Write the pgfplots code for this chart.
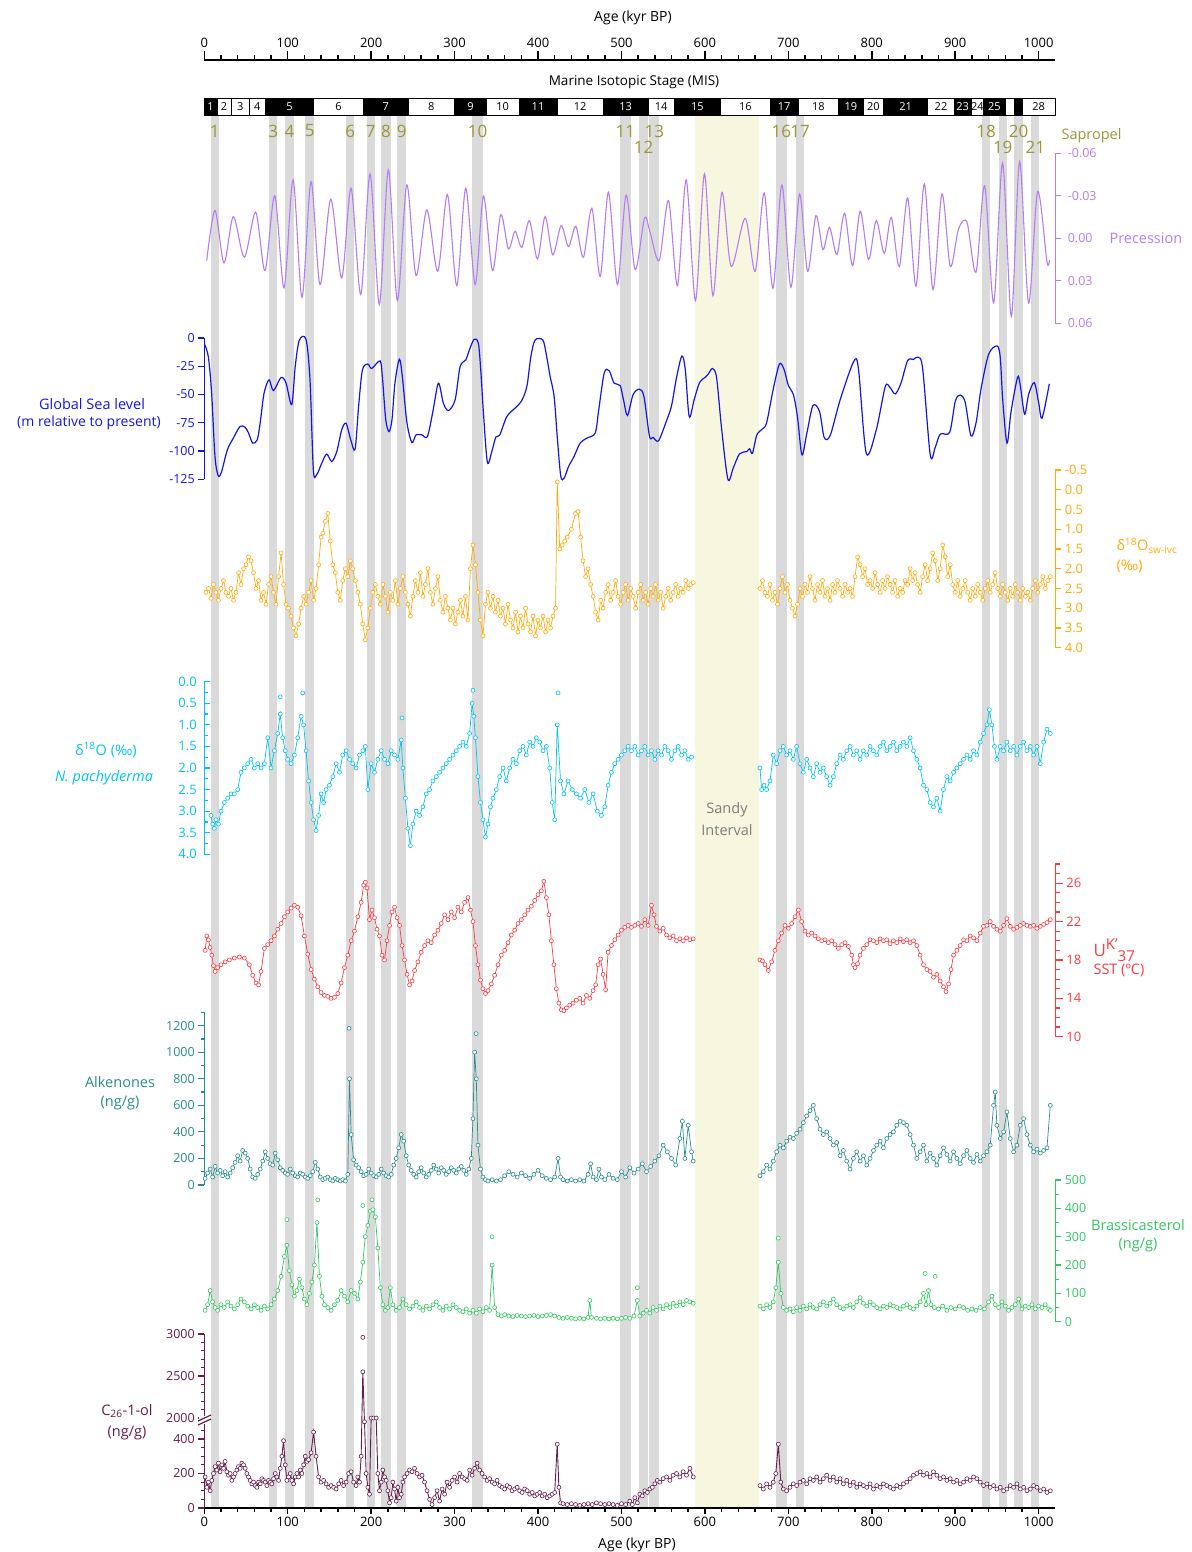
\documentclass[border=0pt]{standalone}
\usepackage{fontspec}
\setmainfont{Open Sans}
\usepackage{pgfplots}
\pgfplotsset{compat=1.18}
\newcommand\fs[1]{\fontsize{#1pt}{#1pt}\selectfont}
\definecolor{prec}{RGB}{180,125,245}
\definecolor{sea}{RGB}{20,20,230}
\definecolor{osw}{RGB}{255,170,10}
\definecolor{pachy}{RGB}{0,195,240}
\definecolor{sst}{RGB}{250,60,65}
\definecolor{alk}{RGB}{40,140,140}
\definecolor{bras}{RGB}{50,200,95}
\definecolor{cter}{RGB}{100,30,75}
\definecolor{sap}{RGB}{218,218,218}
\definecolor{sandy}{RGB}{247,247,224}
\definecolor{olive}{RGB}{155,150,55}
\definecolor{sandtxt}{RGB}{125,125,125}
\pgfkeys{/pgf/number format/.cd,1000 sep={},assume math mode=true}
\pgfplotsset{
 panelbase/.style={scale only axis, width=851pt, xmin=0, xmax=1020, clip=false,
   anchor=south west, tick align=outside, major tick length=6pt, minor tick length=3.5pt,
   scaled y ticks=false, scaled x ticks=false,
   axis line style={-}, every outer y axis line/.append style={-}, every outer x axis line/.append style={-},
   every inner y axis line/.append style={-}, tick style={line width=1.2pt},
   yticklabel style={font=\fs{12.5}}},
 panel/.style={panelbase, axis x line=none},
 dots/.style={color=#1, line width=0.7pt, mark=*, mark size=2pt, mark options={fill=white, draw=#1, line width=0.6pt, solid}},
 odots/.style={only marks, mark=*, mark size=2pt, mark options={fill=white, draw=#1, line width=0.6pt}},
}
\begin{document}
\begin{tikzpicture}[x=1pt,y=1pt]
\useasboundingbox (0,0) rectangle (1191,1552);
% ---------- background bands ----------
\begin{axis}[scale only axis, width=851pt, height=1393pt, at={(204.3pt,44pt)}, anchor=south west,
  xmin=0, xmax=1020, ymin=0, ymax=1, hide axis, clip=false]
\addplot[fill=sap, draw=none] coordinates {(7.7,0)(17.3,0)(17.3,1)(7.7,1)};
\addplot[fill=sap, draw=none] coordinates {(78,0)(87.5,0)(87.5,1)(78,1)};
\addplot[fill=sap, draw=none] coordinates {(97,0)(107,0)(107,1)(97,1)};
\addplot[fill=sap, draw=none] coordinates {(121,0)(131.5,0)(131.5,1)(121,1)};
\addplot[fill=sap, draw=none] coordinates {(170,0)(180,0)(180,1)(170,1)};
\addplot[fill=sap, draw=none] coordinates {(195,0)(204,0)(204,1)(195,1)};
\addplot[fill=sap, draw=none] coordinates {(212,0)(223.5,0)(223.5,1)(212,1)};
\addplot[fill=sap, draw=none] coordinates {(231,0)(242,0)(242,1)(231,1)};
\addplot[fill=sap, draw=none] coordinates {(321,0)(334,0)(334,1)(321,1)};
\addplot[fill=sap, draw=none] coordinates {(498.5,0)(511,0)(511,1)(498.5,1)};
\addplot[fill=sap, draw=none] coordinates {(521,0)(532,0)(532,1)(521,1)};
\addplot[fill=sap, draw=none] coordinates {(533.5,0)(545.5,0)(545.5,1)(533.5,1)};
\addplot[fill=sap, draw=none] coordinates {(685.5,0)(698,0)(698,1)(685.5,1)};
\addplot[fill=sap, draw=none] coordinates {(709,0)(719,0)(719,1)(709,1)};
\addplot[fill=sap, draw=none] coordinates {(932,0)(942,0)(942,1)(932,1)};
\addplot[fill=sap, draw=none] coordinates {(952,0)(962,0)(962,1)(952,1)};
\addplot[fill=sap, draw=none] coordinates {(971,0)(981,0)(981,1)(971,1)};
\addplot[fill=sap, draw=none] coordinates {(991,0)(1001,0)(1001,1)(991,1)};
\addplot[fill=sandy, draw=none] coordinates {(588.5,0)(664.3,0)(664.3,1)(588.5,1)};
\end{axis}
% ---------- MIS bar ----------
\foreach \a/\b/\l in {15/32/2,32/54/3,54/73/4,131/191/6,244/300/8,338/377/10,423/478/12,532/563/14,619/678/16,712/760/18,790/814/20,867/899/22,919/934/24,980/1020/28}{
  \draw[line width=0.6pt, fill=white] ({204.3+0.83431*\a},1437) rectangle ({204.3+0.83431*\b},1454);
  \node[black, font=\fs{11}, inner sep=0pt] at ({204.3+0.83431*(\a+\b)/2},1445.5) {\l};}
\draw[line width=0.6pt, fill=white] ({204.3+0.83431*960},1437) rectangle ({204.3+0.83431*971},1454);
\foreach \a/\b/\l in {0/15/1,73/131/5,191/244/7,300/338/9,377/423/11,478/532/13,563/619/15,678/712/17,760/790/19,814/867/21,899/919/23,934/960/25}{
  \fill[black] ({204.3+0.83431*\a},1437) rectangle ({204.3+0.83431*\b},1454);
  \node[white, font=\fs{11}, inner sep=0pt] at ({204.3+0.83431*(\a+\b)/2},1445.5) {\l};}
\fill[black] ({204.3+0.83431*971},1437) rectangle ({204.3+0.83431*980},1454);
\draw[line width=0.9pt] (204.3,1437) rectangle (1055.3,1454);
% ---------- top axis ----------
\begin{axis}[scale only axis, width=851pt, height=10pt, at={(204.3pt,1492pt)}, anchor=north west,
  xmin=0, xmax=1020, ymin=0, ymax=1, axis x line*=top, axis y line=none, tick align=outside,
  xtick={0,100,...,1000}, minor x tick num=4, major tick length=9pt, minor tick length=5pt,
  scaled x ticks=false,
  axis line style={-}, every outer x axis line/.append style={-},
  x axis line style={line width=1.8pt}, xtick style={line width=1.5pt, black},
  xticklabel style={font=\fs{13}}]
\addplot[draw=none] coordinates {(0,0)};
\end{axis}
% ---------- precession ----------
\begin{axis}[panel, at={(204.3pt,1228.7pt)}, height=170pt, ymin=-0.06, ymax=0.06, y dir=reverse,
  axis y line*=right, ytick={-0.06,-0.03,0,0.03,0.06}, yticklabels={-0.06,-0.03,0.00,0.03,0.06},
  y axis line style={prec, line width=1.2pt}, ytick style={prec}, yticklabel style={prec, xshift=3pt}]
\addplot[prec, line width=1.1pt, smooth] coordinates {(2.9,0.0157)(12.8,-0.0196)(23.6,0.0174)(34.8,-0.0153)(48,0.0134)(61.6,-0.0184)(72.8,0.0228)(84.4,-0.0301)(95.6,0.035)(106.4,-0.0412)(117.1,0.0417)(127.9,-0.04)(138.7,0.0327)(151.6,-0.0276)(164.7,0.028)(175.9,-0.0353)(187.5,0.0397)(198.7,-0.0455)(209.8,0.0468)(220.6,-0.0483)(231.4,0.044)(242.7,-0.0377)(253.8,0.0263)(266.7,-0.02)(279.8,0.0233)(291.4,-0.0309)(302.6,0.0334)(313.4,-0.0353)(324.6,0.0327)(334.6,-0.0297)(345.4,0.0228)(355.4,-0.0167)(364.5,0.0075)(372.5,-0.0049)(380.6,0.0064)(389.7,-0.0125)(399.3,0.0146)(408.5,-0.0153)(417.7,0.0117)(427.7,-0.009)(436.5,0.0059)(445.3,-0.0085)(454.4,0.0134)(464.5,-0.0212)(474.5,0.027)(484.4,-0.0325)(495.2,0.0327)(505.6,-0.0306)(516.4,0.0221)(527.6,-0.0141)(534,-0.005)(545.2,0.0157)(556.4,-0.0266)(567.1,0.0334)(577.6,-0.0412)(588.7,0.044)(599.5,-0.0455)(609.6,0.0405)(620.4,-0.0325)(631.5,0.0198)(648.3,-0.0141)(660.3,0.0233)(671.1,-0.032)(681.5,0.0353)(692.3,-0.0377)(703.1,0.0346)(713.5,-0.0313)(723.1,0.0233)(733.1,-0.016)(741.5,0.008)(749.4,-0.0078)(758.3,0.0115)(767.4,-0.0176)(777,0.0193)(786.2,-0.0191)(796.2,0.015)(805.4,-0.0125)(815,0.0106)(823.4,-0.0148)(833,0.02)(843,-0.0285)(853,0.0339)(863,-0.0384)(873.4,0.0362)(884.2,-0.0313)(894.1,0.0198)(904,-0.0066)(914.1,-0.0113)(924.9,0.024)(935.3,-0.0372)(946.1,0.0456)(956.8,-0.0532)(967.3,0.0551)(977.2,-0.0541)(988,0.0456)(998.8,-0.033)(1010,0.0165)(1013,0.0153)};
\end{axis}
% ---------- sea level ----------
\begin{axis}[panel, at={(204.3pt,1072.7pt)}, height=141.3pt, ymin=-125, ymax=0,
  axis y line*=left, ytick={-125,-100,-75,-50,-25,0}, yticklabels={-125,-100,-75,-50,-25,0},
  y axis line style={sea, line width=1.4pt}, ytick style={sea}, yticklabel style={sea}]
\addplot[sea, line width=1.2pt, smooth] coordinates {(0,-5)(4.8,-16.5)(8.8,-49)(12.8,-105)(16.8,-122)(20.8,-118)(27.6,-99)(34.8,-88.6)(42.8,-78.3)(48.8,-78.9)(53,-84)(58,-93)(63.5,-90)(67,-75)(71.6,-49)(77.6,-37)(82.8,-46.5)(92,-35)(98,-40)(104.8,-59)(109,-25)(113.9,-2)(121.9,-1.2)(126.7,-37)(130.7,-116.6)(134.7,-121)(140.8,-110.7)(146.7,-102.7)(152.8,-109.3)(158.8,-100.4)(164.7,-81.3)(169.9,-75.4)(175.5,-90)(180.7,-98.4)(185,-60)(189.5,-28.3)(195.9,-23)(200.7,-27)(210.7,-20.3)(213.5,-35)(217.5,-72.4)(221.5,-82.8)(225,-72)(228.5,-40)(233.8,-18.8)(237.5,-35)(242.7,-74)(248.7,-92.5)(253.8,-85.7)(260.7,-85.7)(267.4,-87.2)(274,-65)(280.6,-40)(286.6,-57.8)(292.6,-64.2)(300.6,-54.8)(306.6,-25.4)(313.4,-19.4)(318,-10)(323.4,-1.2)(328.5,-4.7)(331.5,-30)(334.6,-66.5)(339.3,-110)(344.6,-100.4)(349.4,-87.7)(354,-86)(362.6,-69.5)(372.5,-62)(380,-56)(386.6,-43)(391.4,-16.5)(396.5,-1.8)(405.8,-1.8)(410,-15)(414.5,-34)(419.3,-52)(423.3,-90)(427.3,-122.5)(431.3,-124)(436.5,-113.8)(443,-105)(450.5,-93)(458.5,-88.6)(468.5,-84.2)(472.5,-65)(479.3,-31)(485.3,-29)(491.2,-40)(498.4,-42)(502.5,-55)(507.2,-68.5)(514,-50)(521.6,-45.3)(527,-52)(533.6,-87)(538,-88)(544.4,-91)(553.6,-74)(560,-60)(566,-35)(572.4,-16)(576.5,-28)(581.2,-69.5)(587,-55)(593.5,-39.5)(600,-35)(604,-32)(609.1,-27)(614,-35)(620,-80)(627.6,-125)(634,-115)(641.5,-102.5)(650,-100.5)(653.5,-98)(657,-102)(662.3,-85.7)(669.1,-80.4)(674,-75)(682,-45)(689.4,-23)(695,-28)(700,-42)(706.2,-50.4)(711,-70)(716.3,-103.4)(722,-85)(729.5,-59.8)(737.4,-65)(743,-88)(750.2,-86.2)(762,-55)(778.2,-21)(784,-27)(793.4,-102)(805.4,-81.3)(816.2,-43)(822,-44)(828.2,-49.5)(835,-40)(843,-20)(850,-19)(855.4,-17)(861,-27)(870.1,-103.4)(876,-97)(882.1,-85)(893.3,-83.6)(900.1,-56)(906.1,-50.4)(912,-57)(918.9,-86.6)(925,-75)(931,-45)(940.1,-14.4)(950.1,-7)(954,-17)(957,-55)(962.1,-93)(967,-65)(974.8,-34.7)(978,-42)(983.2,-67.4)(988,-50)(994.8,-39.5)(1000,-57)(1004.1,-71)(1012.8,-40.6)};
\end{axis}
% ---------- d18O sw-ivc ----------
\begin{axis}[panel, at={(204.3pt,904.3pt)}, height=177.7pt, ymin=-0.5, ymax=4, y dir=reverse,
  axis y line*=right, ytick={-0.5,0,0.5,1,1.5,2,2.5,3,3.5,4}, yticklabels={-0.5,0.0,0.5,1.0,1.5,2.0,2.5,3.0,3.5,4.0},
  y axis line style={osw, line width=1.4pt}, ytick style={osw}, yticklabel style={osw, font=\fs{13}}]
\addplot[dots=osw] coordinates {(2,2.6)(5,2.5)(8,2.75)(11,2.4)(14,2.6)(17,2.8)(20,2.5)(23,2.3)(26,2.6)(29,2.7)(32,2.5)(35,2.8)(38,2.6)(41,2.1)(44,2.4)(47,2.0)(50,1.9)(53,1.7)(56,1.8)(59,2.1)(62,2.5)(65,2.3)(68,2.8)(71,2.6)(74,2.9)(77,2.4)(80,2.2)(83,2.6)(86,2.9)(89,2.2)(92,1.6)(95,2.4)(98,2.9)(101,3.0)(104,3.2)(107,3.5)(110,3.7)(113,3.4)(116,3.0)(119,2.7)(122,2.9)(125,2.6)(128,2.3)(131,2.8)(134,2.5)(137,1.9)(140,1.2)(142,1.1)(145,0.8)(148,0.6)(151,1.3)(154,1.9)(157,2.1)(160,2.6)(163,2.8)(166,2.3)(169,2.0)(172,2.2)(175,1.8)(178,2.0)(181,2.3)(184,2.6)(187,2.9)(190,3.4)(193,3.8)(196,3.5)(199,3.0)(202,2.6)(205,2.4)(208,2.7)(211,2.9)(214,2.4)(217,2.7)(220,3.1)(223,2.6)(226,2.8)(229,2.3)(232,2.9)(235,2.5)(238,2.2)(241,2.6)(244,2.9)(247,3.2)(250,2.7)(253,2.3)(256,2.6)(259,2.1)(262,2.7)(265,2.4)(268,2.0)(271,2.6)(274,2.9)(277,2.5)(280,2.2)(283,2.8)(286,3.1)(289,2.7)(292,3.0)(295,3.3)(298,3.0)(301,3.4)(304,3.1)(307,2.8)(310,3.2)(313,2.7)(316,3.3)(319,2.0)(322,1.4)(325,1.9)(328,2.6)(331,3.3)(334,3.7)(337,2.9)(340,2.6)(343,3.0)(346,2.7)(349,3.1)(352,2.8)(355,3.2)(358,3.0)(361,3.4)(364,2.9)(367,3.3)(370,3.5)(373,3.1)(376,3.6)(379,3.2)(382,3.5)(385,3.0)(388,3.4)(391,3.6)(394,3.2)(397,3.7)(400,3.3)(403,3.5)(406,3.2)(409,3.6)(412,3.3)(415,3.5)(418,3.2)(421,3.0)(423,-0.2)(426,1.5)(429,1.4)(432,1.3)(435,1.2)(440,1.0)(445,0.6)(448,0.55)(451,1.2)(454,1.8)(457,2.2)(460,2.0)(463,2.4)(466,2.7)(469,3.1)(472,3.3)(475,2.8)(478,3.0)(481,2.6)(484,2.4)(487,2.8)(490,2.6)(493,2.3)(496,2.7)(499,2.9)(502,2.6)(505,2.4)(508,2.8)(511,2.5)(514,2.7)(517,3.0)(520,2.6)(523,2.4)(526,2.8)(529,2.6)(532,2.9)(535,2.5)(538,2.7)(541,2.4)(544,2.8)(547,2.6)(550,3.0)(553,2.7)(556,2.5)(559,2.8)(562,2.6)(565,2.4)(568,2.7)(571,2.5)(574,2.6)(577,2.3)(580,2.5)(583,2.4)(586,2.35)};
\addplot[dots=osw] coordinates {(666,2.5)(669,2.3)(672,2.6)(675,2.7)(678,2.4)(681,2.8)(684,2.6)(687,2.9)(690,2.5)(693,2.2)(696,2.6)(699,2.4)(702,2.8)(705,3.0)(708,3.2)(711,2.9)(714,2.5)(717,2.7)(720,2.4)(723,2.6)(726,2.2)(729,2.5)(732,2.8)(735,2.4)(738,2.6)(741,2.3)(744,2.7)(747,2.5)(750,2.8)(753,2.4)(756,2.6)(759,2.3)(762,2.5)(765,2.7)(768,2.4)(771,2.6)(774,2.5)(777,2.7)(780,2.2)(783,1.7)(786,1.9)(789,2.2)(792,2.0)(795,2.4)(798,2.3)(801,2.5)(804,2.1)(807,2.4)(810,2.6)(813,2.3)(816,2.5)(819,2.2)(822,2.4)(825,2.6)(828,2.3)(831,2.7)(834,2.5)(837,2.6)(840,2.3)(843,2.4)(846,2.0)(849,2.3)(852,2.1)(855,2.4)(858,2.6)(861,2.2)(864,1.9)(867,2.3)(870,2.0)(873,1.6)(876,1.8)(879,2.3)(882,2.0)(885,1.4)(888,1.7)(891,2.2)(894,1.9)(897,2.4)(900,2.6)(903,2.3)(906,2.7)(909,2.5)(912,2.3)(915,2.6)(918,2.8)(921,2.5)(924,2.7)(927,2.4)(930,2.6)(933,2.8)(936,2.5)(939,2.3)(942,2.6)(945,2.4)(948,2.1)(951,2.5)(954,2.7)(957,2.4)(960,2.6)(963,2.8)(966,2.5)(969,2.7)(972,2.4)(975,2.6)(978,2.8)(981,2.5)(984,2.7)(987,2.6)(990,2.8)(993,2.5)(996,2.3)(999,2.6)(1002,2.4)(1005,2.2)(1008,2.5)(1011,2.3)(1014,2.2)};
\end{axis}
% ---------- d18O N. pachyderma ----------
\begin{axis}[panel, at={(204.3pt,697.7pt)}, height=172.6pt, ymin=0, ymax=4, y dir=reverse,
  axis y line*=left, tick align=inside, ytick={0,0.5,1,1.5,2,2.5,3,3.5,4}, minor ytick={0.25,0.75,1.25,1.75,2.25,2.75,3.25,3.75},
  yticklabels={0.0,0.5,1.0,1.5,2.0,2.5,3.0,3.5,4.0},
  y axis line style={pachy, line width=1.4pt}, ytick style={pachy}, yticklabel style={pachy, font=\fs{13}, xshift=-4pt}]
\addplot[dots=pachy] coordinates {(8,3.1)(10,3.3)(12,3.4)(14,3.2)(17,3.3)(20,3.0)(24,2.8)(28,2.7)(32,2.6)(36,2.6)(40,2.5)(44,2.1)(48,2.0)(52,1.9)(56,1.8)(60,2.0)(64,1.9)(68,2.0)(72,1.9)(76,1.3)(80,2.0)(84,1.6)(88,1.2)(91,0.75)(94,1.3)(97,1.6)(100,1.8)(104,1.9)(108,1.7)(112,1.3)(116,0.8)(119,1.0)(122,1.6)(125,2.3)(128,2.8)(131,3.2)(134,3.45)(137,3.1)(140,2.6)(143,2.8)(146,2.5)(150,2.4)(154,2.2)(158,1.9)(162,2.1)(166,1.7)(170,1.6)(174,1.8)(178,1.9)(182,2.0)(186,1.7)(190,1.6)(193,1.5)(196,2.5)(200,1.9)(204,2.1)(208,1.8)(212,1.6)(216,1.8)(220,1.9)(224,1.6)(228,1.7)(232,1.8)(236,1.35)(238,2.0)(241,2.7)(244,3.4)(247,3.8)(250,3.3)(254,3.0)(258,3.1)(262,2.9)(266,2.6)(270,2.5)(274,2.3)(278,2.2)(282,2.1)(286,2.0)(290,1.9)(294,1.8)(298,1.7)(302,1.6)(306,1.5)(310,1.4)(314,1.5)(318,1.2)(321,0.5)(323,0.8)(325,1.3)(328,2.2)(331,2.8)(334,3.2)(337,3.6)(340,3.3)(343,2.9)(346,2.7)(350,2.5)(354,2.2)(358,2.0)(362,2.3)(366,2.0)(370,1.8)(374,1.9)(378,1.6)(382,1.5)(386,1.7)(390,1.4)(394,1.5)(398,1.3)(402,1.4)(406,1.6)(410,1.5)(414,2.0)(417,2.8)(420,3.2)(423,1.0)(427,2.3)(431,2.6)(436,2.3)(441,2.5)(446,2.6)(451,2.7)(456,2.5)(461,2.8)(466,2.6)(471,3.0)(476,3.1)(480,2.9)(484,2.4)(488,2.1)(492,1.9)(496,1.8)(500,1.7)(504,1.6)(508,1.5)(512,1.6)(516,1.5)(520,1.7)(524,1.6)(528,1.5)(532,1.7)(536,1.6)(540,1.8)(544,1.6)(548,1.7)(552,1.5)(556,1.6)(560,1.8)(564,1.6)(568,1.5)(572,1.7)(576,1.6)(580,1.8)(584,1.75)};
\addplot[dots=pachy] coordinates {(666,2.0)(668,2.5)(671,2.4)(674,2.5)(678,2.3)(682,1.7)(686,1.9)(690,1.6)(694,1.5)(698,1.7)(702,1.6)(706,1.8)(710,1.5)(714,1.9)(718,2.1)(722,1.8)(726,2.0)(730,2.2)(734,1.9)(738,2.1)(742,2.0)(746,2.2)(750,2.4)(754,2.2)(758,1.9)(762,1.7)(766,1.8)(770,1.6)(774,1.5)(778,1.7)(782,1.6)(786,1.8)(790,1.6)(794,1.7)(798,1.5)(802,1.6)(806,1.7)(810,1.5)(814,1.4)(818,1.6)(822,1.5)(826,1.4)(830,1.6)(834,1.5)(838,1.4)(842,1.5)(846,1.3)(850,1.6)(854,1.8)(858,2.0)(862,2.4)(866,2.5)(870,2.8)(874,2.9)(878,2.7)(882,3.0)(886,2.5)(890,2.2)(894,2.3)(898,2.1)(902,2.0)(906,1.9)(910,1.8)(914,1.7)(918,1.8)(922,1.6)(926,1.7)(930,1.4)(934,1.2)(938,1.0)(941,0.65)(944,1.0)(947,1.5)(950,1.8)(954,1.5)(958,1.6)(962,1.4)(966,1.6)(970,1.5)(974,1.7)(978,1.5)(982,1.4)(986,1.6)(990,1.5)(994,1.7)(998,1.5)(1002,1.9)(1006,1.4)(1010,1.1)(1014,1.2)};
\addplot[odots=pachy] coordinates {(91,0.35)(118,0.26)(237,0.84)(322,0.2)(424,0.26)};
\end{axis}
% ---------- SST ----------
\begin{axis}[panel, at={(204.3pt,515.3pt)}, height=172.7pt, ymin=10, ymax=28,
  axis y line*=right, ytick={10,14,18,22,26}, minor ytick={11,12,13,15,16,17,19,20,21,23,24,25,27,28},
  major tick length=7.5pt, minor tick length=4.5pt,
  y axis line style={sst, line width=1.6pt}, ytick style={sst}, yticklabel style={sst, font=\fs{13}}]
\addplot[dots=sst] coordinates {(1,19.0)(3,20.5)(5,20.1)(7,19.3)(9,18.5)(11,17.4)(13,16.8)(16,17.2)(20,17.5)(25,17.8)(30,18.0)(36,18.2)(42,18.3)(48,18.2)(54,17.5)(58,16.4)(62,15.6)(65,15.4)(68,16.8)(72,19.2)(76,19.6)(80,20.0)(84,20.5)(88,21.2)(92,21.8)(96,22.5)(100,23.0)(104,23.4)(108,23.7)(112,23.5)(116,22.6)(120,20.5)(124,18.6)(128,17.0)(132,16.0)(136,15.2)(140,14.6)(144,14.3)(148,14.2)(152,14.0)(156,14.1)(160,14.5)(164,15.6)(168,17.2)(172,18.5)(176,20.0)(180,21.0)(184,22.5)(188,24.0)(191,25.8)(193,26.1)(195,25.5)(198,22.2)(201,23.2)(204,22.4)(207,21.2)(210,20.5)(213,18.5)(216,18.0)(219,20.0)(222,21.6)(225,23.0)(228,23.5)(231,22.4)(234,21.6)(237,19.5)(240,18.0)(243,16.5)(246,15.4)(249,15.8)(252,16.9)(256,17.8)(260,18.8)(264,19.5)(268,20.0)(272,19.8)(276,20.6)(280,21.1)(284,21.8)(288,22.7)(292,22.2)(296,23.0)(300,22.4)(304,23.5)(308,23.0)(312,24.0)(316,24.5)(319,23.2)(322,22.0)(325,19.5)(328,17.5)(331,15.9)(334,15.0)(337,14.5)(340,14.8)(344,15.5)(348,16.4)(352,17.5)(356,18.5)(360,19.0)(364,19.8)(368,20.6)(372,21.1)(376,21.8)(380,22.2)(384,22.7)(388,23.2)(392,23.6)(396,24.2)(400,24.8)(404,25.2)(407,26.2)(410,24.5)(413,22.7)(416,20.0)(419,17.5)(422,15.0)(425,13.5)(428,12.8)(431,12.7)(434,13.0)(438,13.3)(442,13.5)(446,13.8)(450,14.0)(454,13.5)(458,14.3)(462,14.0)(466,14.8)(469,15.4)(472,17.5)(475,18.1)(478,16.5)(481,14.9)(484,18.8)(488,19.5)(492,20.1)(496,20.6)(500,21.1)(504,21.4)(508,21.6)(512,21.4)(516,21.6)(520,21.8)(524,21.5)(528,22.2)(532,21.6)(536,23.7)(539,22.7)(542,21.5)(546,21.0)(550,21.3)(554,20.6)(558,20.3)(562,20.5)(566,20.0)(570,20.2)(574,20.0)(578,20.3)(582,20.1)(586,20.2)};
\addplot[dots=sst] coordinates {(666,18.0)(669,17.9)(672,17.5)(676,16.9)(680,17.8)(684,19.0)(688,20.0)(692,20.8)(696,21.6)(700,21.3)(704,21.8)(708,22.5)(712,23.2)(716,22.0)(720,21.0)(724,20.6)(728,20.8)(732,20.5)(736,20.2)(740,20.0)(744,20.1)(748,19.8)(752,20.0)(756,19.6)(760,19.2)(764,19.6)(768,19.8)(772,19.4)(776,18.5)(778,17.5)(780,17.2)(783,17.6)(786,18.5)(790,19.2)(794,19.6)(798,20.1)(802,20.0)(806,19.8)(810,20.2)(814,20.0)(818,20.1)(822,19.7)(826,20.0)(830,19.8)(834,20.2)(838,19.9)(842,20.1)(846,19.8)(850,20.0)(854,19.5)(858,18.5)(862,17.5)(866,17.0)(870,16.8)(874,16.2)(878,16.5)(882,15.8)(886,15.2)(889,14.7)(892,15.5)(895,17.0)(898,18.5)(902,19.0)(906,19.5)(910,20.1)(914,20.0)(918,20.5)(922,20.3)(926,20.0)(930,20.8)(934,21.5)(938,21.6)(942,22.0)(946,21.5)(950,21.2)(954,21.0)(958,21.6)(962,22.3)(966,21.5)(970,21.2)(974,21.4)(978,21.6)(982,21.8)(986,21.6)(990,21.5)(994,21.6)(998,21.3)(1002,21.5)(1006,21.7)(1010,21.9)(1014,22.2)};
\end{axis}
% ---------- Alkenones ----------
\begin{axis}[panel, at={(204.3pt,367pt)}, height=172.6pt, ymin=0, ymax=1300,
  axis y line*=left, ytick={0,200,400,600,800,1000,1200}, minor ytick={100,300,500,700,900,1100,1300},
  yticklabels={0,200,400,600,800,1000,1200},
  y axis line style={alk, line width=1.4pt}, ytick style={alk}, yticklabel style={alk}]
\addplot[dots=alk] coordinates {(1,50)(4,90)(7,120)(10,60)(13,140)(16,90)(19,110)(22,70)(25,100)(28,60)(31,90)(34,130)(37,170)(40,220)(43,180)(46,260)(49,240)(52,200)(55,120)(58,60)(61,50)(64,80)(67,120)(70,180)(73,250)(76,200)(79,160)(82,150)(85,240)(88,190)(91,130)(94,110)(97,90)(100,80)(103,120)(106,90)(109,70)(112,60)(115,90)(118,80)(121,60)(124,50)(127,70)(130,100)(133,170)(136,120)(139,60)(142,40)(145,50)(148,60)(151,40)(154,30)(157,50)(160,40)(163,30)(166,40)(169,30)(172,80)(174,800)(176,380)(179,190)(182,150)(185,130)(188,100)(191,70)(194,80)(197,120)(200,90)(203,70)(206,60)(209,80)(212,120)(215,90)(218,70)(221,60)(224,80)(227,150)(230,200)(233,280)(236,380)(239,330)(242,220)(245,150)(248,110)(251,80)(254,60)(257,100)(260,130)(263,90)(266,60)(269,80)(272,110)(275,150)(278,120)(281,90)(284,130)(287,110)(290,80)(293,100)(296,130)(299,110)(302,90)(305,120)(308,140)(311,110)(314,80)(317,120)(320,200)(322,500)(324,1000)(326,800)(328,300)(331,120)(334,60)(337,40)(340,30)(345,40)(350,30)(355,40)(360,70)(365,100)(370,80)(375,60)(380,90)(385,70)(390,50)(395,80)(400,110)(405,70)(410,50)(415,40)(420,60)(424,200)(427,60)(430,40)(435,30)(440,40)(445,30)(450,40)(455,30)(460,80)(463,160)(466,60)(470,40)(473,120)(476,60)(480,40)(485,80)(490,50)(495,40)(500,100)(505,60)(510,130)(515,90)(520,120)(525,160)(530,100)(535,140)(540,180)(545,220)(550,300)(555,250)(560,200)(565,150)(570,350)(573,480)(576,200)(580,450)(584,250)(586,180)};
\addplot[dots=alk] coordinates {(666,70)(670,100)(674,150)(678,120)(682,180)(686,250)(690,300)(694,280)(698,330)(702,360)(706,350)(710,390)(714,420)(718,470)(722,520)(726,560)(730,600)(734,500)(738,420)(742,380)(746,400)(750,350)(754,300)(758,320)(762,220)(766,260)(770,180)(774,120)(778,200)(782,250)(786,180)(790,220)(794,150)(798,200)(802,260)(806,300)(810,330)(814,280)(818,350)(822,380)(826,400)(830,450)(834,480)(838,470)(842,450)(846,380)(850,300)(854,200)(858,250)(862,300)(866,180)(870,240)(874,200)(878,150)(882,220)(886,280)(890,230)(894,180)(898,250)(902,200)(906,160)(910,220)(914,260)(918,200)(922,170)(926,230)(930,180)(934,220)(938,250)(942,300)(946,600)(948,700)(950,450)(954,350)(958,400)(962,550)(966,350)(970,250)(974,300)(978,450)(982,500)(986,380)(990,300)(994,250)(998,270)(1002,240)(1006,260)(1010,280)(1014,600)};
\addplot[odots=alk] coordinates {(173.5,1180)(325.8,1140)};
\end{axis}
% ---------- Brassicasterol ----------
\begin{axis}[panel, at={(204.3pt,230.3pt)}, height=141.7pt, ymin=0, ymax=500,
  axis y line*=right, ytick={0,100,200,300,400,500}, minor ytick={50,150,250,350,450},
  yticklabels={0,100,200,300,400,500},
  y axis line style={bras, line width=1.6pt}, ytick style={bras}, yticklabel style={bras}]
\addplot[dots=bras] coordinates {(1,40)(4,60)(7,110)(10,70)(13,50)(16,40)(20,60)(24,50)(28,70)(32,55)(36,45)(40,60)(44,80)(48,70)(52,55)(56,45)(60,60)(64,50)(68,40)(72,55)(76,45)(80,60)(84,80)(88,110)(92,160)(96,230)(99,270)(102,180)(105,130)(108,90)(111,110)(114,150)(117,120)(120,80)(123,60)(126,100)(129,140)(132,200)(135,350)(138,160)(141,90)(144,60)(148,50)(152,40)(156,60)(160,75)(164,110)(168,90)(172,70)(176,110)(180,100)(184,80)(187,140)(190,210)(193,300)(196,340)(199,390)(202,395)(205,370)(208,260)(211,120)(214,60)(217,40)(220,50)(223,120)(226,60)(230,40)(234,50)(238,80)(242,60)(246,45)(250,55)(254,70)(258,50)(262,40)(266,55)(270,45)(274,60)(278,70)(282,50)(286,40)(290,55)(294,45)(298,60)(302,50)(306,40)(310,35)(314,45)(318,30)(322,40)(326,30)(330,45)(334,35)(338,50)(342,40)(345,200)(348,50)(352,25)(356,20)(360,25)(365,20)(370,18)(375,22)(380,20)(385,18)(390,20)(395,22)(400,18)(405,20)(410,22)(415,25)(420,20)(425,15)(430,12)(435,15)(440,12)(445,10)(450,12)(455,10)(460,15)(462,75)(464,15)(470,12)(475,10)(480,12)(485,10)(490,12)(495,10)(500,12)(505,15)(510,12)(515,20)(519,75)(522,20)(526,30)(530,40)(534,30)(538,50)(542,40)(546,55)(550,45)(554,60)(558,50)(562,65)(566,55)(570,70)(574,60)(578,75)(582,70)(586,65)};
\addplot[dots=bras] coordinates {(666,55)(670,45)(674,60)(678,50)(682,70)(685,120)(688,210)(691,100)(694,50)(698,40)(702,45)(706,35)(710,50)(714,40)(718,55)(722,45)(726,60)(730,50)(734,45)(738,60)(742,70)(746,55)(750,65)(754,80)(758,60)(762,50)(766,45)(770,55)(774,60)(778,50)(782,70)(786,85)(790,65)(794,55)(798,70)(802,60)(806,50)(810,45)(814,55)(818,50)(822,60)(826,55)(830,50)(834,45)(838,55)(842,60)(846,50)(850,45)(854,55)(858,70)(862,100)(865,60)(868,110)(871,60)(875,50)(880,45)(885,55)(890,40)(895,50)(900,45)(905,55)(910,50)(915,40)(920,45)(925,40)(930,50)(935,45)(940,70)(944,90)(948,60)(952,50)(956,70)(960,55)(964,40)(968,50)(972,60)(976,80)(980,45)(984,55)(988,50)(992,60)(996,45)(1000,55)(1004,50)(1008,60)(1012,45)(1014,40)};
\addplot[odots=bras] coordinates {(99,360)(136,430)(190,410)(201,430)(345,300)(519,120)(688,295)(864,170)(876,160)};
\end{axis}
% ---------- C26-1-ol (broken axis) with bottom age axis ----------
\begin{axis}[panelbase, at={(204.3pt,44pt)}, height=174pt, ymin=0, ymax=1008.7,
  axis x line*=bottom, axis y line*=left,
  y filter/.expression={y>1000 ? 521.7+(y-2000)*0.487 : y},
  ytick={0,200,400,521.7,765.2,1008.7}, yticklabels={0,200,400,2000,2500,3000},
  minor ytick={50,100,150,250,300,350,450,570.4,619.1,667.8,716.5,813.9,862.6,911.3,960},
  xtick={0,100,200,300,400,500,600,700,800,900,1000}, minor x tick num=4,
  xticklabels={0,100,200,300,400,500,600,700,800,900,1000},
  x axis line style={black, line width=1.8pt}, xtick style={black, line width=1.5pt},
  xticklabel style={black, font=\fs{13}},
  y axis line style={cter, line width=1.6pt}, ytick style={cter}, yticklabel style={cter}]
\addplot[dots=cter, line width=0.9pt] coordinates {(1,180)(3,120)(5,150)(7,100)(9,160)(11,200)(13,240)(15,220)(17,260)(19,210)(21,250)(23,230)(25,270)(27,210)(29,190)(31,200)(33,160)(35,180)(37,200)(39,220)(41,240)(43,230)(45,260)(47,250)(49,230)(51,200)(53,180)(55,160)(57,140)(59,150)(61,130)(63,120)(65,150)(67,140)(69,170)(71,160)(73,150)(75,130)(77,160)(79,150)(81,140)(83,170)(85,200)(87,180)(89,160)(91,230)(93,300)(95,390)(97,250)(99,160)(101,180)(103,200)(105,160)(107,140)(109,180)(111,200)(113,180)(115,220)(117,200)(119,250)(121,300)(123,270)(125,280)(128,320)(131,440)(134,300)(137,180)(140,150)(143,160)(146,140)(149,120)(152,130)(155,120)(158,110)(161,140)(164,160)(167,130)(170,150)(173,200)(176,210)(179,150)(182,130)(184,180)(186,150)(188,300)(190,2550)(192,500)(194,200)(196,120)(198,80)(200,2000)(203,2000)(206,2000)(208,200)(210,100)(212,150)(214,220)(216,180)(218,160)(220,100)(222,30)(224,60)(226,150)(228,110)(230,40)(232,120)(234,60)(236,80)(238,150)(240,180)(243,200)(246,220)(249,210)(252,230)(255,200)(258,180)(261,190)(264,150)(267,100)(270,50)(273,20)(276,60)(279,100)(282,40)(285,110)(288,80)(291,150)(294,120)(297,160)(300,180)(303,150)(306,200)(309,180)(312,170)(315,160)(318,220)(321,190)(324,230)(327,260)(330,220)(333,200)(336,180)(339,160)(342,170)(345,150)(348,140)(351,160)(354,130)(357,120)(360,110)(363,130)(366,120)(369,100)(372,110)(375,120)(378,100)(381,90)(384,110)(387,100)(390,80)(393,90)(396,70)(399,80)(402,90)(405,70)(408,80)(411,60)(414,70)(417,80)(420,90)(423,370)(425,120)(427,30)(430,25)(435,20)(440,25)(445,20)(450,15)(455,20)(460,25)(465,20)(470,30)(475,25)(480,20)(485,25)(490,20)(495,15)(500,25)(505,20)(510,40)(513,20)(516,60)(519,30)(522,80)(525,70)(528,100)(531,90)(534,110)(537,120)(540,140)(543,160)(546,150)(550,170)(554,180)(558,160)(562,190)(566,200)(570,180)(574,210)(578,190)(582,230)(586,180)};
\addplot[dots=cter, line width=0.9pt] coordinates {(666,130)(670,110)(674,140)(678,120)(682,150)(685,200)(688,370)(691,150)(694,110)(698,100)(702,120)(706,140)(710,130)(714,150)(718,160)(722,140)(726,170)(730,160)(734,180)(738,150)(742,170)(746,190)(750,160)(754,180)(758,150)(762,170)(766,140)(770,160)(774,130)(778,150)(782,120)(786,140)(790,130)(794,120)(798,140)(802,110)(806,130)(810,120)(814,140)(818,130)(822,120)(826,110)(830,130)(834,120)(838,140)(842,150)(846,170)(850,190)(854,200)(858,210)(862,190)(866,200)(870,180)(874,210)(878,190)(882,170)(886,180)(890,160)(894,170)(898,150)(902,160)(906,140)(910,150)(914,170)(918,160)(922,180)(926,170)(930,150)(934,130)(938,140)(942,120)(946,130)(950,110)(954,120)(958,100)(962,110)(966,130)(970,120)(974,140)(978,110)(982,120)(986,100)(990,110)(994,130)(998,120)(1002,100)(1006,110)(1010,90)(1014,100)};
\addplot[odots=cter] coordinates {(190,2960)};
\end{axis}
% axis break mark
\fill[white] (199,128) rectangle (210,136);
\draw[cter, line width=1.2pt] (198,127) -- (211,133);
\draw[cter, line width=1.2pt] (198,131) -- (211,137);
% ---------- texts ----------
\node[font=\fs{14}] at (633,1534) {Age (kyr BP)};
\node[font=\fs{13.5}] at (634,1470) {Marine Isotopic Stage (MIS)};
\node[font=\fs{14}] at (637,7) {Age (kyr BP)};
\foreach \k/\l in {12.5/1,82.75/3,102/4,126.25/5,175/6,199.5/7,217.75/8,236.5/9,327.5/10,504.75/11,539.5/13,691.75/16,714/17,937/18,976/20}{
  \node[olive, font=\fs{17}, inner sep=0pt] at ({204.3+0.83431*\k},1421) {\l};}
\foreach \k/\l in {526.5/12,957/19,996/21}{
  \node[olive, font=\fs{17}, inner sep=0pt] at ({204.3+0.83431*\k},1405) {\l};}
\node[olive, font=\fs{14.5}, anchor=west] at (1058,1416) {Sapropel};
\node[prec, font=\fs{14.5}, anchor=west] at (1106,1314) {Precession};
\node[sea, font=\fs{14.5}] at (92,1148) {Global Sea level};
\node[sea, font=\fs{14}] at (89,1129) {(m relative to present)};
\node[osw, font=\fs{14.5}, anchor=west] at (1113,1006) {δ\textsuperscript{18}O\textsubscript{sw-ivc}};
\node[osw, font=\fs{14.5}, anchor=west] at (1113,986) {(‰)};
\node[pachy, font=\fs{14.5}] at (106,802) {δ\textsuperscript{18}O (‰)};
\node[pachy, font=\fs{14.5}\itshape] at (104,774) {N. pachyderma};
\node[sst, font=\fs{17}, anchor=west] at (1090,602) {U\raisebox{7pt}{\fs{15}K’}\raisebox{-5pt}{\fs{15}37}};
\node[sst, font=\fs{14.5}, anchor=west] at (1090,582) {SST (ºC)};
\node[alk, font=\fs{14.5}] at (120,470) {Alkenones};
\node[alk, font=\fs{14.5}] at (120,449) {(ng/g)};
\node[bras, font=\fs{14.5}] at (1138,327) {Brassicasterol};
\node[bras, font=\fs{14.5}] at (1138,307) {(ng/g)};
\node[cter, font=\fs{14.5}] at (127,141) {C\textsubscript{26}-1-ol};
\node[cter, font=\fs{14.5}] at (127,119) {(ng/g)};
\node[sandtxt, font=\fs{14.5}] at (727,742) {Sandy};
\node[sandtxt, font=\fs{14.5}] at (727,722) {Interval};
\end{tikzpicture}
\end{document}
